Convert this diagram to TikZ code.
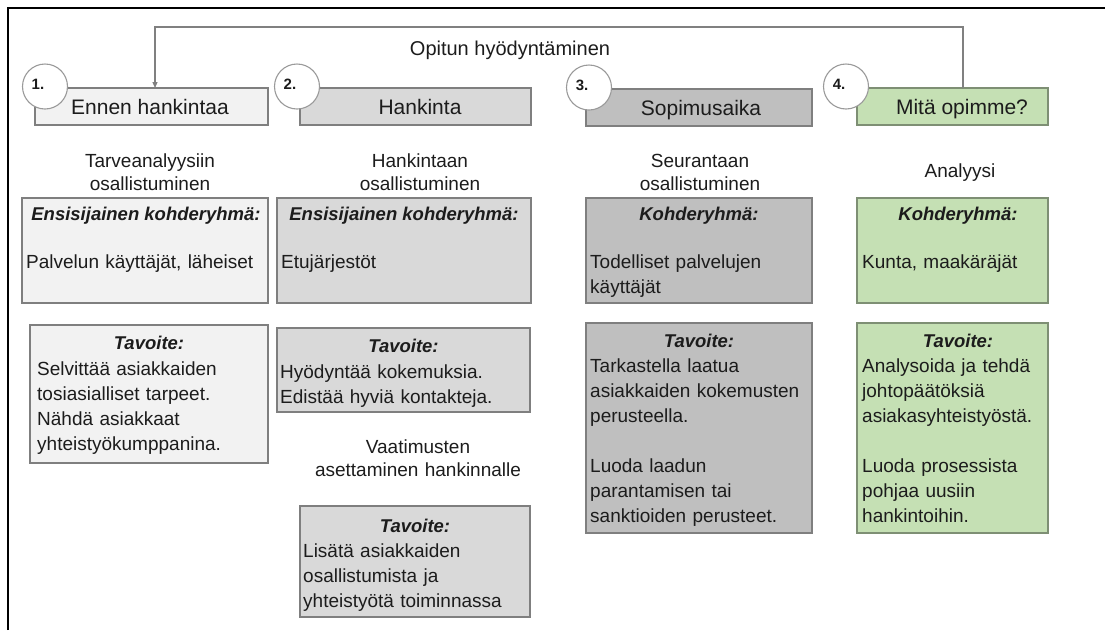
\documentclass[tikz,border=0pt]{standalone}
\usepackage{fontspec}
\setmainfont{Liberation Sans}
\usetikzlibrary{arrows.meta,calc}

\definecolor{edge}{HTML}{7F7F7F}
\definecolor{fillA}{HTML}{F2F2F2}
\definecolor{fillB}{HTML}{D9D9D9}
\definecolor{fillC}{HTML}{BFBFBF}
\definecolor{fillD}{HTML}{C5E0B4}
\definecolor{edgeD}{HTML}{7E8F74}
\definecolor{ink}{HTML}{1C1C1C}
\definecolor{ringgray}{HTML}{9A9A9A}
\definecolor{loopgray}{HTML}{808080}

\begin{document}
\begin{tikzpicture}[x=1pt,y=-1pt,
  panel/.style={draw=edge, line width=1.3pt, inner sep=0pt, outer sep=0pt},
  panelA/.style={panel, fill=fillA},
  panelB/.style={panel, fill=fillB},
  panelC/.style={panel, fill=fillC},
  panelD/.style={panel, fill=fillD, draw=edgeD},
  ring/.style={circle, draw=ringgray, line width=1.1pt, fill=white, minimum size=45pt, inner sep=0pt},
  ringnum/.style={font=\fontsize{15}{18}\selectfont\bfseries, text=ink, inner sep=0pt},
  hdrtxt/.style={anchor=base, font=\fontsize{21}{25}\selectfont, text=ink, inner sep=0pt},
  subtxt/.style={anchor=base, font=\fontsize{19}{23}\selectfont, text=ink, inner sep=0pt, text width=260pt, align=center},
  headtxt/.style={anchor=base, font=\fontsize{18.5}{24}\selectfont\bfseries\itshape, text=ink, inner sep=0pt},
  bodytxt/.style={anchor=base west, font=\fontsize{19}{25}\selectfont, text=ink, inner sep=0pt, text width=240pt, align=left},
  loopline/.style={draw=loopgray, line width=1.2pt},
  looptip/.style={-{Triangle[length=6pt,width=5pt]}}
]
\useasboundingbox (0,0) rectangle (1105,630);

% outer frame (top and left edges)
\coordinate (frBL) at (8,630);
\coordinate (frTL) at (8,8);
\coordinate (frTR) at (1105,8);
\draw[line width=2.6pt, black] (frBL) -- (frTL) -- (frTR);

% phase headers
\node[panelA, minimum width=233pt, minimum height=37pt] (h1) at (151.5,106.5) {};
\node[panelB, minimum width=231pt, minimum height=37pt] (h2) at (415.5,106.5) {};
\node[panelC, minimum width=226pt, minimum height=37pt] (h3) at (699,107.5) {};
\node[panelD, minimum width=191pt, minimum height=37pt] (h4) at (952.5,106.5) {};

\node[hdrtxt] (h1t) at (150,114) {Ennen hankintaa};
\node[hdrtxt] (h2t) at (420,114) {Hankinta};
\node[hdrtxt] (h3t) at (701,115) {Sopimusaika};
\node[hdrtxt] (h4t) at (962,114) {Mitä opimme?};

% numbered circles
\node[ring] (r1) at (45,86.5) {};
\node[ring] (r2) at (297,86.5) {};
\node[ring] (r3) at (589,87.5) {};
\node[ring] (r4) at (846,86.5) {};
\node[ringnum] (r1n) at ($(r1)+(-7,-2)$) {1.};
\node[ringnum] (r2n) at ($(r2)+(-7,-2)$) {2.};
\node[ringnum] (r3n) at ($(r3)+(-7,-2)$) {3.};
\node[ringnum] (r4n) at ($(r4)+(-7,-2)$) {4.};

% feedback loop from phase 4 back to phase 1
\coordinate (fbL) at (155,27);
\coordinate (fbR) at (963,27);
\draw[loopline, looptip] (h4.north -| fbR) -- (fbR) -- (fbL) -- (fbL |- h1.north);
\node[anchor=base, font=\fontsize{20}{24}\selectfont, text=ink, inner sep=0pt] (fbt) at (510,55) {Opitun hyödyntäminen};

% participation subtitles
\node[subtxt] (s1) at (150,167) {Tarveanalyysiin\\osallistuminen};
\node[subtxt] (s2) at (420,167) {Hankintaan\\osallistuminen};
\node[subtxt] (s3) at (700,167) {Seurantaan\\osallistuminen};
\node[subtxt] (s4) at (960,177) {Analyysi};

% target group boxes
\node[panelA, minimum width=246pt, minimum height=105pt] (a1) at (145,250.5) {};
\node[panelB, minimum width=254pt, minimum height=105pt] (b1) at (404,250.5) {};
\node[panelC, minimum width=226pt, minimum height=105pt] (c1) at (699,250.5) {};
\node[panelD, minimum width=191pt, minimum height=105pt] (d1) at (952.5,250.5) {};

\node[headtxt] (a1h) at (146,220) {Ensisijainen kohderyhmä:};
\node[headtxt] (b1h) at (404,220) {Ensisijainen kohderyhmä:};
\node[headtxt] (c1h) at (699,220) {Kohderyhmä:};
\node[headtxt] (d1h) at (958,220) {Kohderyhmä:};

\node[bodytxt] (a1b) at ($(a1.west |- 0,268)+(4,0)$) {Palvelun käyttäjät, läheiset};
\node[bodytxt] (b1b) at ($(b1.west |- 0,268)+(4,0)$) {Etujärjestöt};
\node[bodytxt] (c1b) at ($(c1.west |- 0,268)+(4,0)$) {Todelliset palvelujen\\käyttäjät};
\node[bodytxt] (d1b) at ($(d1.west |- 0,268)+(5,0)$) {Kunta, maakäräjät};

% goal boxes
\node[panelA, minimum width=238pt, minimum height=138pt] (a2) at (149,394) {};
\node[panelB, minimum width=253pt, minimum height=84pt] (b2) at (403.5,370) {};
\node[panelC, minimum width=226pt, minimum height=210pt] (c2) at (699,428) {};
\node[panelD, minimum width=191pt, minimum height=210pt] (d2) at (952.5,428) {};

\node[headtxt] (a2h) at (149,349) {Tavoite:};
\node[headtxt] (b2h) at (403.5,352) {Tavoite:};
\node[headtxt] (c2h) at (699,347) {Tavoite:};
\node[headtxt] (d2h) at (958,347) {Tavoite:};

\node[bodytxt] (a2b) at ($(a2.west |- 0,375)+(7,0)$) {Selvittää asiakkaiden\\tosiasialliset tarpeet.\\Nähdä asiakkaat\\yhteistyökumppanina.};
\node[bodytxt] (b2b) at ($(b2.west |- 0,378)+(3,0)$) {Hyödyntää kokemuksia.\\Edistää hyviä kontakteja.};
\node[bodytxt] (c2b) at ($(c2.west |- 0,372)+(4,0)$) {Tarkastella laatua\\asiakkaiden kokemusten\\perusteella.\\[25pt]Luoda laadun\\parantamisen tai\\sanktioiden perusteet.};
\node[bodytxt] (d2b) at ($(d2.west |- 0,372)+(5,0)$) {Analysoida ja tehdä\\johtopäätöksiä\\asiakasyhteistyöstä.\\[25pt]Luoda prosessista\\pohjaa uusiin\\hankintoihin.};

% requirement setting in the procurement phase
\node[subtxt] (s5) at (418,453) {Vaatimusten\\asettaminen hankinnalle};
\node[panelB, minimum width=230pt, minimum height=111pt] (b3) at (415,561.5) {};
\node[headtxt] (b3h) at (415,532) {Tavoite:};
\node[bodytxt] (b3b) at ($(b3.west |- 0,557)+(3,0)$) {Lisätä asiakkaiden\\osallistumista ja\\yhteistyötä toiminnassa};
\end{tikzpicture}
\end{document}
